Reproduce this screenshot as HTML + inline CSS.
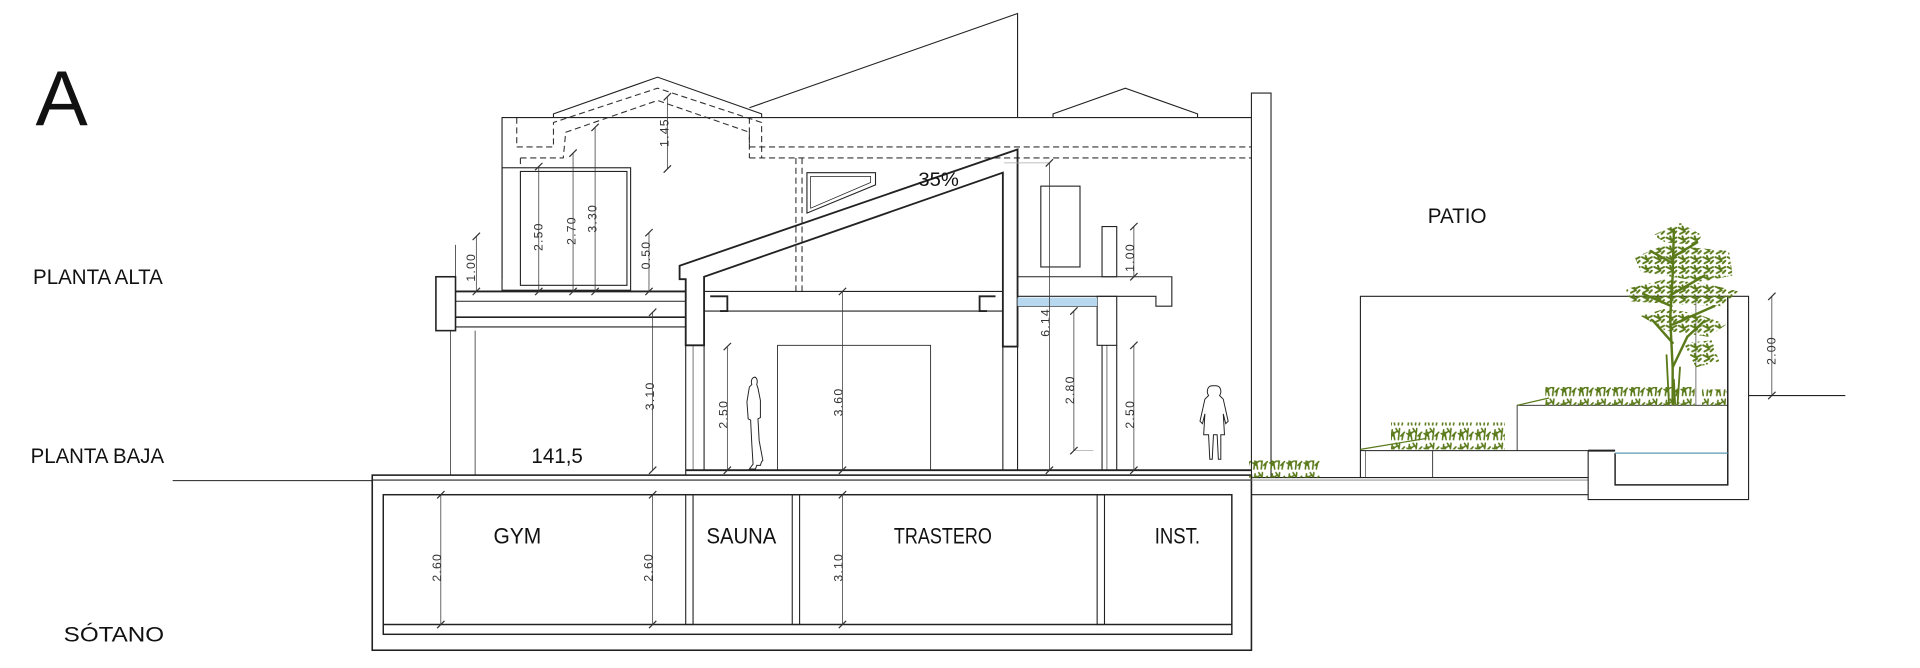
<!DOCTYPE html>
<html><head><meta charset="utf-8"><style>
html,body{margin:0;padding:0;background:#fff;width:1920px;height:668px;overflow:hidden}
svg{display:block}
.t{font-family:"Liberation Sans",sans-serif;fill:#111}
.d{font-family:"Liberation Sans",sans-serif;fill:#333;font-size:10px;letter-spacing:1px}
</style></head><body>
<svg width="1920" height="668" viewBox="0 0 1568 545.5" xmlns="http://www.w3.org/2000/svg">
<defs>
<pattern id="tuft" width="14" height="12" patternUnits="userSpaceOnUse">
<g stroke="#5a7a1a" stroke-width="1.3" fill="none" stroke-linecap="round">
<path d="M2 11 L3 3 M5 11 L4 5 M3 7 L7 4 M8 11 L9 2 M10 8 L13 5 M11 11 L12 6 M1 6 L4 8 M6 2 L8 5"/>
</g>
</pattern>
<pattern id="leaf" width="10" height="8" patternUnits="userSpaceOnUse">
<g stroke="#5a7a1a" stroke-width="1.6" fill="none" stroke-linecap="round">
<path d="M1 2 L5 4 L9 2 M2 7 L6 5 M7 7 L9 5 M4 1 L5 4"/>
</g>
</pattern>
</defs>
<rect width="1568" height="546" fill="#fff"/>
<g fill="none" stroke="#222" stroke-width="0.9">
<line x1="141" y1="392.5" x2="304" y2="392.5"/>
<!-- basement -->
<rect x="304" y="388" width="718" height="143" stroke-width="1.3"/>
<rect x="313" y="404" width="693" height="114" stroke-width="1.2"/>
<line x1="313" y1="510" x2="1006" y2="510" stroke-width="1.2"/>
<rect x="560" y="404" width="6" height="106"/>
<rect x="647" y="404" width="6" height="106"/>
<rect x="896" y="404" width="6" height="106"/>
<line x1="560" y1="384" x2="1022" y2="384" stroke-width="1.5"/>
<line x1="304" y1="392" x2="1022" y2="392"/>
<line x1="1022" y1="390" x2="1297" y2="390"/>
<line x1="1022" y1="404" x2="1297" y2="404"/>
<line x1="1022" y1="392" x2="1297" y2="392" stroke="#999"/>
<polyline points="410,228 410,96 1022,96 1022,390"/>
<polyline points="1022,96 1022,76 1038,76 1038,390"/>
<polyline points="452,96 452,93 537,63 622,93 622,96"/>
<polyline points="612,88 831,11 831,96"/>
<polyline points="860,96 860,93 919,72 978,93 978,96"/>
<g stroke-dasharray="5,3" stroke="#333">
<polyline points="612,120 1022,120"/>
<polyline points="612,129 1022,129"/>
<polyline points="612,96 612,120"/>
<polyline points="422,96 422,120 452,120 452,100 537,72 622,100 622,129"/>
<polyline points="425,129 460,129 462,108 537,82 612,108 612,129"/>
<polyline points="425,129 425,137"/>
<line x1="650" y1="129" x2="650" y2="238"/>
<line x1="655" y1="129" x2="655" y2="238"/>
</g>
<rect x="410" y="137" width="105" height="100"/>
<rect x="425" y="140" width="87" height="93"/>
<polygon points="555,217 831,122 831,283 819,283 819,141 575,226 575,282 560,282 560,228 555,228" stroke-width="1.5"/>
<polygon points="659,141 715,141 715,151 659,174"/>
<polygon points="662,144 711,144 711,149 662,170" stroke-width="0.6"/>
<rect x="356" y="226" width="16" height="44" stroke-width="1.3"/>
<line x1="372" y1="238" x2="560" y2="238" stroke-width="1.5"/>
<line x1="372" y1="246" x2="560" y2="246"/>
<line x1="372" y1="259" x2="560" y2="259" stroke-width="1.3"/>
<line x1="372" y1="267" x2="560" y2="267"/>
<line x1="575" y1="238" x2="819" y2="238"/>
<line x1="575" y1="254" x2="819" y2="254"/>
<polyline points="580,242 594,242 594,254 588,254" stroke-width="1.5"/>
<polyline points="813,242 800,242 800,254 806,254" stroke-width="1.5"/>
<polyline points="831,226 957,226 957,250 944,250 944,242 896,242"/>
<line x1="831" y1="242" x2="896" y2="242"/>
<line x1="831" y1="250" x2="896" y2="250"/>
<rect x="900" y="185" width="12" height="41"/>
<rect x="896" y="242" width="16" height="40"/>
<line x1="900" y1="282" x2="900" y2="384"/>
<line x1="912" y1="282" x2="912" y2="384"/>
<line x1="904" y1="282" x2="904" y2="384" stroke-width="0.5"/>
<rect x="850" y="152" width="32" height="66"/>
<line x1="560" y1="282" x2="560" y2="388"/>
<line x1="566" y1="282" x2="566" y2="384" stroke-width="0.5"/>
<line x1="575" y1="282" x2="575" y2="384"/>
<line x1="819" y1="283" x2="819" y2="384"/>
<line x1="831" y1="283" x2="831" y2="384"/>
<line x1="368" y1="270" x2="368" y2="388" stroke-width="0.6"/>
<line x1="388" y1="270" x2="388" y2="388" stroke-width="0.6"/>
<line x1="372" y1="200" x2="372" y2="226" stroke-width="0.6"/>
<rect x="635" y="282" width="125" height="102" stroke-width="0.7"/>
<!-- patio -->
<polyline points="1111,390 1111,242 1428,242 1428,408 1297,408 1297,368 1111,368"/>
<polyline points="1319,370 1319,396 1411,396 1411,242" stroke-width="1.2"/>
<line x1="1297" y1="368" x2="1319" y2="368" stroke-width="1.6"/>
<line x1="1428" y1="323" x2="1507" y2="323"/>
<polyline points="1239,368 1239,331 1411,331" stroke-width="0.7"/>
<line x1="1170" y1="368" x2="1170" y2="390" stroke-width="0.7"/>
<line x1="1115" y1="368" x2="1115" y2="390" stroke-width="0.5"/>
<line x1="1385" y1="242" x2="1385" y2="331" stroke-width="0.5"/>
</g>
<rect x="831" y="243" width="65" height="7" fill="#b8d8f0"/>
<line x1="1319" y1="370" x2="1411" y2="370" stroke="#5a9ab0" stroke-width="1"/>
<g stroke="#333" stroke-width="0.6">
<line x1="389" y1="193" x2="389" y2="238"/>
<line x1="440" y1="136" x2="440" y2="238"/>
<line x1="468" y1="125" x2="468" y2="238"/>
<line x1="486" y1="104" x2="486" y2="238"/>
<line x1="545" y1="79" x2="545" y2="138"/>
<line x1="530" y1="190" x2="530" y2="238"/>
<line x1="533" y1="255" x2="533" y2="384"/>
<line x1="594" y1="283" x2="594" y2="384"/>
<line x1="688" y1="238" x2="688" y2="384"/>
<line x1="688" y1="404" x2="688" y2="510"/>
<line x1="360" y1="404" x2="360" y2="510"/>
<line x1="533" y1="404" x2="533" y2="510"/>
<line x1="857" y1="133" x2="857" y2="384"/>
<line x1="877" y1="254" x2="877" y2="368"/>
<line x1="926" y1="282" x2="926" y2="384"/>
<line x1="926" y1="185" x2="926" y2="226"/>
<line x1="1447" y1="242" x2="1447" y2="323"/>
<line x1="877" y1="368" x2="893" y2="368" stroke="#aaa"/>
<line x1="857" y1="133" x2="820" y2="133" stroke="#aaa"/>
<g stroke-width="1">
<path d="M386 196l6-6M386 241l6-6M437 241l6-6M465 241l6-6M483 241l6-6M437 139l6-6M465 128l6-6M483 107l6-6M542 82l6-6M542 141l6-6M527 193l6-6M527 241l6-6M530 258l6-6M530 387l6-6M591 286l6-6M591 387l6-6M685 241l6-6M685 387l6-6M685 407l6-6M685 513l6-6M357 407l6-6M357 513l6-6M530 407l6-6M530 513l6-6M854 136l6-6M854 387l6-6M874 257l6-6M874 371l6-6M923 285l6-6M923 387l6-6M923 188l6-6M923 229l6-6M1444 245l6-6M1444 326l6-6"/>
</g>
</g>
<g class="d">
<text transform="translate(388,230) rotate(-90)">1.00</text>
<text transform="translate(443,205) rotate(-90)">2.50</text>
<text transform="translate(470,200) rotate(-90)">2.70</text>
<text transform="translate(487,190) rotate(-90)">3.30</text>
<text transform="translate(546,120) rotate(-90)">1.45</text>
<text transform="translate(531,220) rotate(-90)">0.50</text>
<text transform="translate(534,335) rotate(-90)">3.10</text>
<text transform="translate(594,350) rotate(-90)">2.50</text>
<text transform="translate(688,340) rotate(-90)">3.60</text>
<text transform="translate(857,275) rotate(-90)">6.14</text>
<text transform="translate(877,330) rotate(-90)">2.80</text>
<text transform="translate(926,350) rotate(-90)">2.50</text>
<text transform="translate(926,222) rotate(-90)">1.00</text>
<text transform="translate(1450,298) rotate(-90)">2.00</text>
<text transform="translate(360,475) rotate(-90)">2.60</text>
<text transform="translate(533,475) rotate(-90)">2.60</text>
<text transform="translate(688,475) rotate(-90)">3.10</text>
</g>
<text class="t" x="29" y="102" font-size="64">A</text>
<g lengthAdjust="spacingAndGlyphs">
<text class="t" x="27" y="232" font-size="17" textLength="106" lengthAdjust="spacingAndGlyphs">PLANTA ALTA</text>
<text class="t" x="25" y="378" font-size="17" textLength="109" lengthAdjust="spacingAndGlyphs">PLANTA BAJA</text>
<text class="t" x="52" y="524" font-size="17" textLength="82" lengthAdjust="spacingAndGlyphs">SÓTANO</text>
<text class="t" x="434" y="378" font-size="17" textLength="42" lengthAdjust="spacingAndGlyphs">141,5</text>
<text class="t" x="750" y="152" font-size="16" textLength="33" lengthAdjust="spacingAndGlyphs">35%</text>
<text class="t" x="1166" y="182" font-size="17" textLength="48" lengthAdjust="spacingAndGlyphs">PATIO</text>
<text class="t" x="403" y="444" font-size="18" textLength="39" lengthAdjust="spacingAndGlyphs">GYM</text>
<text class="t" x="577" y="444" font-size="18" textLength="57" lengthAdjust="spacingAndGlyphs">SAUNA</text>
<text class="t" x="730" y="444" font-size="18" textLength="80" lengthAdjust="spacingAndGlyphs">TRASTERO</text>
<text class="t" x="943" y="444" font-size="18" textLength="37" lengthAdjust="spacingAndGlyphs">INST.</text>
</g>
<g fill="none" stroke="#222" stroke-width="0.8">
<path d="M617 308c-3 0-4 3-3 6l-2 2-2 12 1 14 2 1 1 20 1 16-3 4h5l1-3 3 0 1-3 1-1-3-16-1-18 2-1 0-14-2-10-1-3c1-3 0-6-2-6z"/>
<path d="M990 315c-4 0-5 5-3 8l-3 3-4 18 2 2 2-8-1 17 4 0 1 20h2l1-20h3l1 20h2l0-20h3l-1-17 2 8 2-2-4-18-3-3c2-3 1-8-3-8z"/>
</g>
<!-- tree -->
<g stroke="#5a7a1a" fill="none" stroke-linecap="round">
<path d="M1366 330 L1366 300 L1364 260 L1366 225 L1367 188 M1366 300 L1378 275 L1392 262 M1366 280 L1350 262 M1365 250 L1342 240 M1366 240 L1392 225 M1366 215 L1348 205 M1366 210 L1386 198 M1366 265 L1400 250" stroke-width="2"/>
<path d="M1363 330 L1361 290 M1370 330 L1372 300 M1368 330 L1367 310" stroke-width="1.5"/>
</g>
<g fill="url(#leaf)">
<path d="M1350 192 L1372 182 L1390 192 L1385 200 L1360 198 Z"/>
<path d="M1335 210 L1360 200 L1412 205 L1415 225 L1390 230 L1340 222 Z"/>
<path d="M1328 236 L1360 228 L1395 232 L1420 238 L1405 250 L1360 248 L1330 246 Z"/>
<path d="M1340 258 L1360 252 L1385 256 L1410 265 L1395 275 L1360 270 Z"/>
<path d="M1375 280 L1398 278 L1404 295 L1385 300 Z"/>
</g>
<g fill="url(#tuft)">
<rect x="1262" y="316" width="122" height="15"/>
<rect x="1390" y="318" width="20" height="13"/>
<rect x="1136" y="345" width="93" height="22"/>
<rect x="1020" y="376" width="58" height="14"/>
</g>
<g stroke="#5a7a1a" stroke-width="1">
<line x1="1111" y1="367" x2="1165" y2="358"/>
<line x1="1239" y1="331" x2="1265" y2="325"/>
</g>
</svg>
</body></html>
